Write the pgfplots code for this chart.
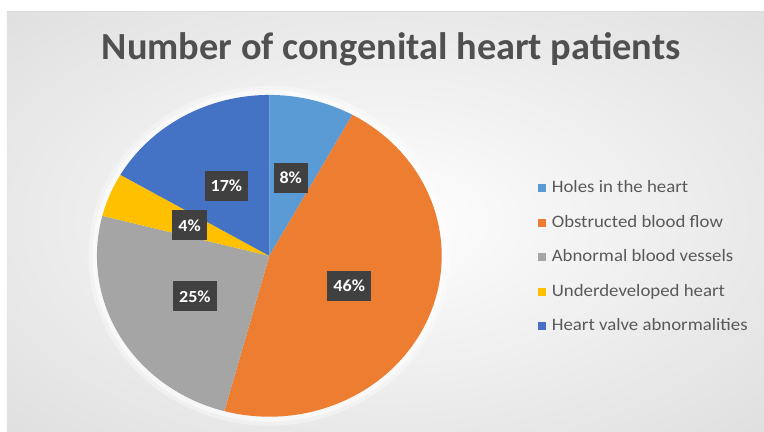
\documentclass[border=0pt]{standalone}
\usepackage{pgfplots}
\pgfplotsset{compat=1.18}
\usepackage{pgfplotstable}
\usepackage{graphicx}
\usepackage{fontspec}
\setmainfont{Carlito}

\definecolor{cA}{HTML}{5B9BD5}
\definecolor{cB}{HTML}{ED7D31}
\definecolor{cC}{HTML}{A5A5A5}
\definecolor{cD}{HTML}{FFC000}
\definecolor{cE}{HTML}{4472C4}
\definecolor{txt}{HTML}{595959}
\definecolor{ttl}{HTML}{505050}
\definecolor{lblbg}{HTML}{404040}

\pgfplotstableread[col sep=comma]{
name,pct,color
Holes in the heart,8.0,cA
Obstructed blood flow,46.2,cB
Abnormal blood vessels,24.8,cC
Underdeveloped heart,4.4,cD
Heart valve abnormalities,16.6,cE
}\piedata

\pgfdeclareradialshading{bgshade}{\pgfpoint{0bp}{0bp}}{color(0bp)=(white); color(8bp)=(white!97!black); color(55bp)=(black!19); color(72bp)=(black!22)}

\tikzset{lbl/.style={fill=lblbg, text=white, font=\bfseries\fontsize{17}{17}\selectfont,
    inner xsep=6bp, inner ysep=0pt, minimum height=30bp}}

\begin{document}
\begin{tikzpicture}
\pgfplotsset{set layers}
\begin{axis}[
  scale only axis, width=764bp, height=432bp,
  xmin=-1.5623, xmax=2.8667, ymin=-1.0932, ymax=1.5901,
  hide axis, clip=false,
  legend style={at={(axis cs:1.5565,-0.0124)}, anchor=west, draw=none, fill=none,
    inner sep=0pt, font=\fontsize{17.5}{17.5}\selectfont, text=txt, row sep=20.5bp,
    nodes={inner sep=0pt, text height=11bp, text depth=3bp, anchor=west},
    cells={anchor=west}},
  legend image code/.code={\fill[#1] (0bp,-3.5bp) rectangle (8bp,4.5bp); \path (14bp,0bp);},
]
\begin{pgfonlayer}{axis background}
\fill[white] (rel axis cs:0,0) rectangle (rel axis cs:1,1);
\shade[shading=bgshade] (rel axis cs:0.00916,0) rectangle (rel axis cs:1,0.9745);
\draw[black!14, line width=1bp] (rel axis cs:0.00916,0.9745) -- (rel axis cs:1,0.9745);
\end{pgfonlayer}

\fill[white, opacity=0.35] (axis cs:0,0) ellipse [x radius=181bp, y radius=170bp];
\fill[white, opacity=0.5] (axis cs:0,0) ellipse [x radius=177bp, y radius=166bp];

\pgfmathsetmacro{\cum}{0}
\pgfplotsforeachungrouped \i in {0,...,4}{%
  \pgfplotstablegetelem{\i}{pct}\of\piedata \let\pct\pgfplotsretval
  \pgfplotstablegetelem{\i}{color}\of\piedata \let\col\pgfplotsretval
  \pgfplotstablegetelem{\i}{name}\of\piedata \let\nm\pgfplotsretval
  \pgfmathsetmacro{\aA}{90-3.6*\cum}%
  \pgfmathsetmacro{\aB}{90-3.6*(\cum+\pct)}%
  \pgfmathsetmacro{\cum}{\cum+\pct}%
  \edef\temp{\noexpand\addplot[fill=\col, draw=none, domain=\aB:\aA, samples=90, variable=\noexpand\t]
    ({cos(\noexpand\t)},{sin(\noexpand\t)}) -- (axis cs:0,0) -- cycle;
    \noexpand\addlegendentry{\noexpand\scalebox{1.08}[1]{\nm}}}%
  \temp
}

\pgfmathsetmacro{\cum}{0}
\pgfplotsforeachungrouped \i in {0,...,4}{%
  \pgfplotstablegetelem{\i}{pct}\of\piedata \let\pct\pgfplotsretval
  \pgfmathsetmacro{\aM}{90-3.6*(\cum+\pct/2)}%
  \pgfmathsetmacro{\cum}{\cum+\pct}%
  \pgfmathtruncatemacro{\rp}{round(\pct)}%
  \edef\temp{\noexpand\node[lbl] at (axis cs:{0.5*cos(\aM)},{0.5*sin(\aM)})
    {\noexpand\scalebox{1.07}[1]{\rp\noexpand\%}};}%
  \temp
}

\node[anchor=base, font=\bfseries\fontsize{38.5}{38.5}\selectfont, text=ttl]
  at (axis cs:0.7072,1.2174) {Number of congenital heart patients};
\end{axis}
\end{tikzpicture}
\end{document}
